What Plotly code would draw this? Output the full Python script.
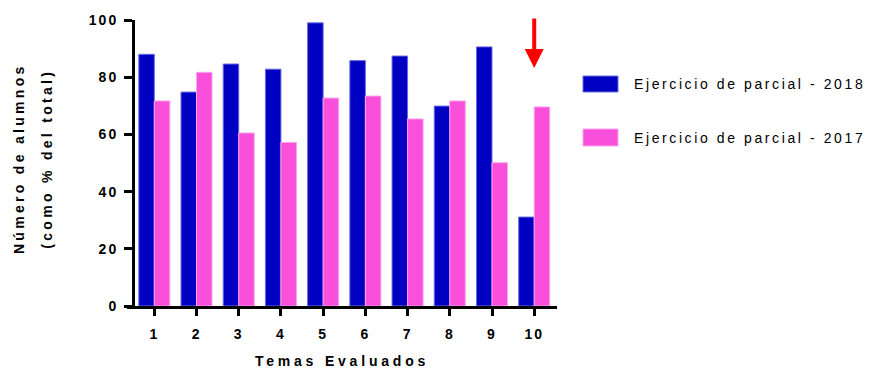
import plotly.graph_objects as go

temas = [1, 2, 3, 4, 5, 6, 7, 8, 9, 10]
tick_labels = ["1", "2", "3", "4", "5", "6", "7", "8", "9", "10"]
serie_2018 = [88.0, 74.8, 84.6, 82.8, 99.0, 85.8, 87.4, 69.9, 90.6, 31.1]
serie_2017 = [71.7, 81.7, 60.5, 57.2, 72.7, 73.4, 65.4, 71.7, 50.1, 69.6]
name_2018 = "Ejercicio de parcial - 2018"
name_2017 = "Ejercicio de parcial - 2017"
color_2018 = "#0000C2"
color_2017 = "#F94FDB"
edge_2018 = "#6A6AE0"
edge_2017 = "#FBA3EC"
y_ticks = [0, 20, 40, 60, 80, 100]

FONT = "Liberation Sans, Arial, sans-serif"

fig = go.Figure()
fig.add_trace(go.Bar(x=temas, y=serie_2018, name=name_2018,
                     marker=dict(color=color_2018, line=dict(color=edge_2018, width=1))))
fig.add_trace(go.Bar(x=temas, y=serie_2017, name=name_2017,
                     marker=dict(color=color_2017, line=dict(color=edge_2017, width=1))))

W, H = 870, 369
L, R, T, B = 127, 313, 20, 63
pw = W - L - R
ph = H - T - B

def px_x(p):
    return (p - L) / pw

def px_y(p):
    return (H - B - p) / ph

fig.update_layout(
    width=W, height=H,
    margin=dict(l=L, r=R, t=T, b=B, pad=0),
    paper_bgcolor="white", plot_bgcolor="white",
    barmode="group", bargap=0.265, bargroupgap=0,
    showlegend=False,
    font=dict(family=FONT, size=14, color="black"),
    xaxis=dict(
        range=[0.353, 10.54], tickmode="array", tickvals=temas, ticktext=tick_labels,
        automargin=False,
        showgrid=False, zeroline=False, showline=True, linecolor="black", linewidth=3,
        ticks="outside", ticklen=7, tickwidth=3, tickcolor="black", ticklabelstandoff=6,
        tickfont=dict(family=FONT, size=14, color="black", weight="bold"),
        title=dict(text="Temas Evaluados", font=dict(family=FONT, size=14, color="black", weight="bold"),
                   standoff=26),
    ),
    yaxis=dict(
        range=[0, 100], tickmode="array", tickvals=y_ticks,
        anchor="free", position=6 / pw, automargin=False,
        showgrid=False, zeroline=False, showline=True, linecolor="black", linewidth=3,
        ticks="outside", ticklen=8, tickwidth=3, tickcolor="black", ticklabelstandoff=3,
        tickfont=dict(family=FONT, size=14, color="black", weight="bold"),
    ),
)

# Y axis title (two lines)
fig.add_annotation(text="Número de alumnos", xref="paper", yref="paper", x=px_x(19), y=px_y(158),
                   textangle=-90, showarrow=False, xanchor="center", yanchor="middle",
                   font=dict(family=FONT, size=14, color="black", weight="bold"))
fig.add_annotation(text="(como % del total)", xref="paper", yref="paper", x=px_x(47), y=px_y(159),
                   textangle=-90, showarrow=False, xanchor="center", yanchor="middle",
                   font=dict(family=FONT, size=14, color="black", weight="bold"))

# Custom legend
for name, col, edge, y0, y1 in [(name_2018, color_2018, edge_2018, 76, 92),
                                 (name_2017, color_2017, edge_2017, 129, 146)]:
    fig.add_shape(type="rect", xref="paper", yref="paper",
                  x0=px_x(583), x1=px_x(618), y0=px_y(y1), y1=px_y(y0),
                  fillcolor=col, line=dict(color=edge, width=1))
    fig.add_annotation(text=name, xref="paper", yref="paper", x=px_x(632), y=px_y((y0 + y1) / 2),
                       showarrow=False, xanchor="left", yanchor="middle",
                       font=dict(family=FONT, size=14, color="black"))

# Red arrow pointing at tema 10
fig.add_annotation(x=temas[-1], y=83.2, xref="x", yref="y", text="", showarrow=True,
                   ax=0, ay=-51, arrowhead=2, arrowsize=0.95, arrowwidth=4, arrowcolor="#FF0000")

post = """
document.body.style.margin = '0';
function applySpacing(){
  var gd = document.getElementById('{plot_id}');
  gd.querySelectorAll('.xtick text, .ytick text').forEach(function(t){t.style.letterSpacing='2px';});
  gd.querySelectorAll('text.xtitle').forEach(function(t){t.style.letterSpacing='3.8px';});
  var anns = gd.querySelectorAll('g.annotation');
  anns.forEach(function(a){
    var idx = parseInt(a.getAttribute('data-index'));
    var t = a.querySelector('text');
    if(!t) return;
    if(idx < 2){ t.style.letterSpacing='3.3px'; }
    else if(t.getAttribute('data-spaced') !== '1'){
      var bb = t.getBBox();
      t.setAttribute('text-anchor', 'start');
      t.setAttribute('x', bb.x);
      t.querySelectorAll('tspan').forEach(function(s){ if(s.getAttribute('x')!==null){ s.setAttribute('x', bb.x); } });
      t.style.letterSpacing='2.6px';
      t.setAttribute('data-spaced', '1');
    }
  });
}
applySpacing();
document.getElementById('{plot_id}').on('plotly_afterplot', applySpacing);
"""

fig.write_html("out.html", post_script=post, config={"displayModeBar": False})
